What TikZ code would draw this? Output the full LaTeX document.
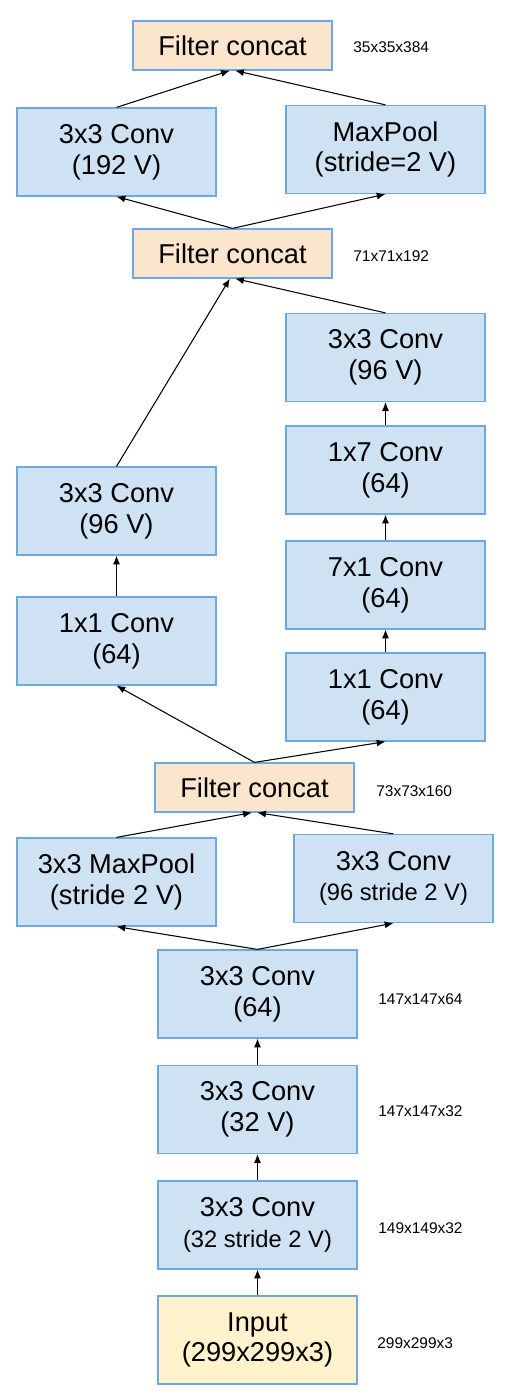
\documentclass[tikz,border=0pt]{standalone}
\usepackage{fontspec}
\setmainfont{Liberation Sans}
\usepackage{xcolor}
\usetikzlibrary{arrows.meta}
\definecolor{boxblue}{HTML}{CFE2F3}
\definecolor{boxedge}{HTML}{6FA8DC}
\definecolor{concatfill}{HTML}{FCE5CD}
\definecolor{inputfill}{HTML}{FFF2CC}

\begin{document}
\begin{tikzpicture}[x=0.02cm, y=-0.02cm, >={Latex[length=5pt,width=4pt]}]
    \tikzset{
        layer/.style={draw=boxedge, line width=0.7pt, fill=boxblue, minimum width=3.98cm,
            minimum height=1.76cm, inner sep=0pt, align=center,
            font=\fontsize{15.5}{17.5}\selectfont},
        concat/.style={layer, fill=concatfill, minimum height=0.98cm},
        inputbox/.style={layer, fill=inputfill},
        dims/.style={anchor=west, inner sep=0pt, font=\fontsize{8.8}{10}\selectfont},
        flow/.style={->, line width=0.6pt, black}
    }
    \newcommand{\smallline}[1]{{\fontsize{13.5}{17.5}\selectfont #1}}
    \useasboundingbox (0,0) rectangle (524,1396);

    % stem
    \node[inputbox] (input) at (257.5,1340) {Input\\(299x299x3)};
    \node[layer] (convA) at (257.5,1225) {3x3 Conv\\\smallline{(32 stride 2 V)}};
    \node[layer] (convB) at (257.5,1109.5) {3x3 Conv\\(32 V)};
    \node[layer] (convC) at (257.5,994) {3x3 Conv\\(64)};

    \node[layer] (poolA) at (116.5,882) {3x3 MaxPool\\(stride 2 V)};
    \node[layer] (convD) at (393.5,878.5) {3x3 Conv\\\smallline{(96 stride 2 V)}};
    \node[concat] (catA) at (254.5,787.5) {Filter concat};

    % left branch
    \node[layer] (left1) at (116.5,641) {1x1 Conv\\(64)};
    \node[layer] (left2) at (116.5,511) {3x3 Conv\\(96 V)};

    % right branch
    \node[layer] (right1) at (385.5,697) {1x1 Conv\\(64)};
    \node[layer] (right2) at (385.5,585) {7x1 Conv\\(64)};
    \node[layer] (right3) at (385.5,470) {1x7 Conv\\(64)};
    \node[layer] (right4) at (385.5,357.5) {3x3 Conv\\(96 V)};
    \node[concat] (catB) at (232.5,253.5) {Filter concat};

    \node[layer] (convE) at (116.5,152) {3x3 Conv\\(192 V)};
    \node[layer] (poolB) at (385.5,149.5) {MaxPool\\(stride=2 V)};
    \node[concat] (catC) at (232.5,45.5) {Filter concat};

    % sizes
    \node[dims] (dimC) at (353,47) {35x35x384};
    \node[dims] (dimB) at (353,256) {71x71x192};
    \node[dims] (dimA) at (376,791) {73x73x160};
    \node[dims] (dim3) at (378,999) {147x147x64};
    \node[dims] (dim2) at (378,1111) {147x147x32};
    \node[dims] (dim1) at (378,1228) {149x149x32};
    \node[dims] (dim0) at (377,1343) {299x299x3};

    \draw[flow] (input.north) -- (convA.south);
    \draw[flow] (convA.north) -- (convB.south);
    \draw[flow] (convB.north) -- (convC.south);
    \draw[flow] (convC.north) -- (poolA.south);
    \draw[flow] (convC.north) -- (convD.south);
    \draw[flow] (poolA.north) -- ([xshift=-1.5]catA.south);
    \draw[flow] (convD.north) -- ([xshift=1.5]catA.south);

    \draw[flow] (catA.north) -- (left1.south);
    \draw[flow] (catA.north) -- (right1.south);
    \draw[flow] (left1.north) -- (left2.south);
    \draw[flow] (right1.north) -- (right2.south);
    \draw[flow] (right2.north) -- (right3.south);
    \draw[flow] (right3.north) -- (right4.south);
    \draw[flow] (left2.north) -- ([xshift=-1.5]catB.south);
    \draw[flow] (right4.north) -- ([xshift=1.5]catB.south);

    \draw[flow] (catB.north) -- (convE.south);
    \draw[flow] (catB.north) -- (poolB.south);
    \draw[flow] (convE.north) -- ([xshift=-1.5]catC.south);
    \draw[flow] (poolB.north) -- ([xshift=1.5]catC.south);
\end{tikzpicture}
\end{document}
